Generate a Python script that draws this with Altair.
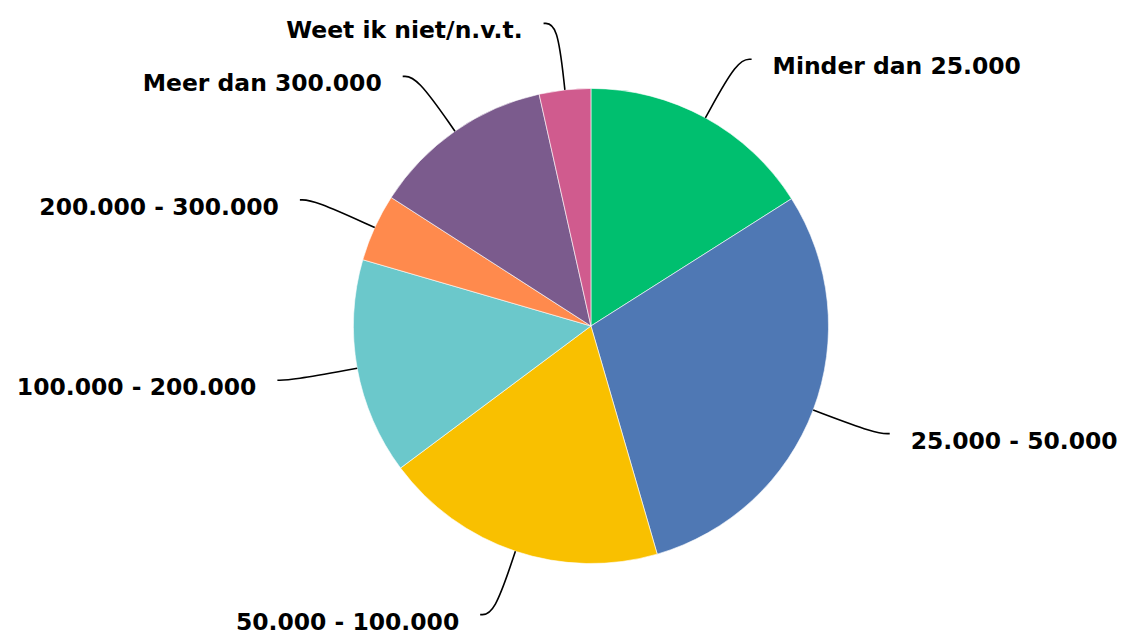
import math
import altair as alt
import pandas as pd

categories = ["Minder dan 25.000", "25.000 - 50.000", "50.000 - 100.000",
              "100.000 - 200.000", "200.000 - 300.000", "Meer dan 300.000",
              "Weet ik niet/n.v.t."]
values = [16.0, 29.5, 19.3, 14.7, 4.6, 12.4, 3.5]
colors = ["#00BF6F", "#4F78B4", "#F9C000", "#6BC8CB", "#FF8A4D", "#7B5B8D", "#D05B8E"]

W, H = 1110, 621
CX, CY = 584, 318      # pie centre in chart pixels
R = 238                # pie radius
R_ELBOW = 305
TAIL = 14
GAP = 21
FONT = "DejaVu Sans"
FSIZE = 23.5

total = sum(values)
pie_rows, line_rows, text_rows = [], [], []
cum = 0.0
for i, (c, v) in enumerate(zip(categories, values)):
    pie_rows.append({"cat": c, "val": v, "idx": i})
    mid = (cum + v / 2) / total * 2 * math.pi
    cum += v
    sx, sy = math.sin(mid), -math.cos(mid)
    right = mid < math.pi
    sgn = 1 if right else -1
    p0 = (CX + R * sx, CY + R * sy)
    p1 = (CX + R_ELBOW * sx, CY + R_ELBOW * sy)
    p2 = (p1[0] + sgn * TAIL, p1[1])
    for k, p in enumerate([p0, p1, p2]):
        line_rows.append({"cat": c, "k": k, "px": p[0], "py": p[1]})
    text_rows.append({"cat": c, "px": p2[0] + sgn * GAP, "py": p2[1] + 8,
                      "align": "left" if right else "right"})

pie_df = pd.DataFrame(pie_rows)
line_df = pd.DataFrame(line_rows)
text_df = pd.DataFrame(text_rows)

xs = alt.Scale(domain=[0, W], nice=False, zero=False)
ys = alt.Scale(domain=[0, H], nice=False, zero=False, reverse=True)

pie = alt.Chart(pie_df).mark_arc(radius=R, stroke="white", strokeWidth=0.6).encode(
    theta=alt.Theta("val:Q", stack=True),
    color=alt.Color("cat:N", scale=alt.Scale(domain=categories, range=colors), legend=None),
    order=alt.Order("idx:Q"),
    x=alt.value(CX),
    y=alt.value(CY),
)

lines = alt.Chart(line_df).mark_line(color="black", strokeWidth=1.6, interpolate="basis").encode(
    x=alt.X("px:Q", scale=xs, axis=None),
    y=alt.Y("py:Q", scale=ys, axis=None),
    detail="cat:N",
    order="k:Q",
)

text_left = alt.Chart(text_df).transform_filter(alt.datum.align == "left").mark_text(
    align="left", baseline="middle", font=FONT, fontWeight="bold", fontSize=FSIZE, color="black"
).encode(
    x=alt.X("px:Q", scale=xs, axis=None),
    y=alt.Y("py:Q", scale=ys, axis=None),
    text="cat:N",
)
text_right = alt.Chart(text_df).transform_filter(alt.datum.align == "right").mark_text(
    align="right", baseline="middle", font=FONT, fontWeight="bold", fontSize=FSIZE, color="black"
).encode(
    x=alt.X("px:Q", scale=xs, axis=None),
    y=alt.Y("py:Q", scale=ys, axis=None),
    text="cat:N",
)

chart = alt.layer(pie, lines, text_left, text_right).properties(
    width=W, height=H, padding=0, background="white"
).configure_view(stroke=None)

chart.save("out.html", embed_options={"renderer": "svg", "actions": False})
